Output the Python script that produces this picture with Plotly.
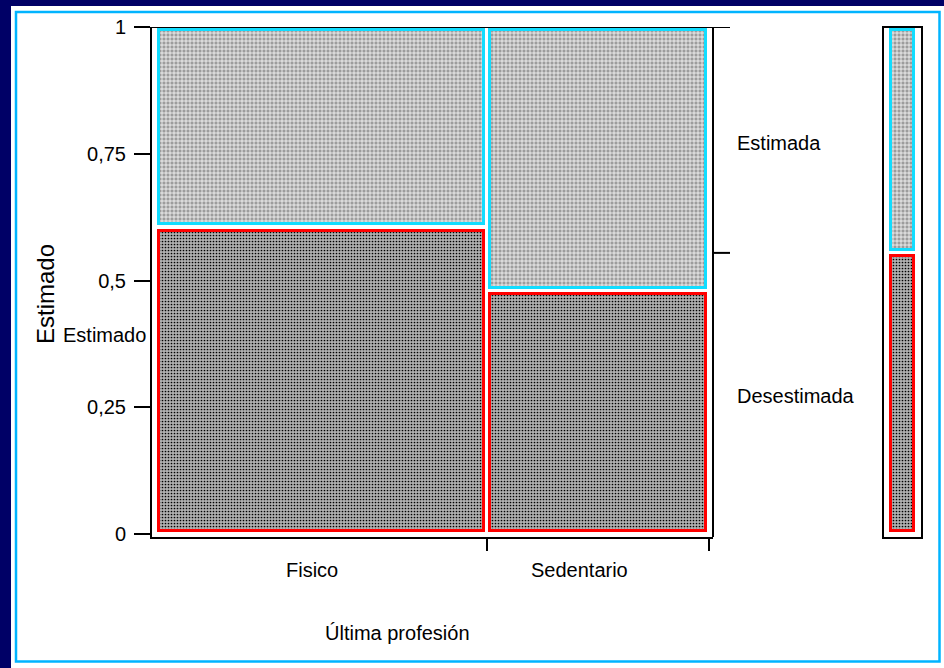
import plotly.graph_objects as go

# ---------------- data ----------------
categories = ["Fisico", "Sedentario"]          # Última profesión
col_share = [0.598, 0.402]                      # column widths (share of cases)
desestimada = [0.6045, 0.480]                   # share "Desestimada" within each column
estimada = [1 - v for v in desestimada]         # share "Estimada" within each column
responses = ["Desestimada", "Estimada"]
y_tickvals = [0, 0.25, 0.5, 0.75, 1]
y_ticktext = ["0", "0,25", "0,5", "0,75", "1"]

# marginal share of "Desestimada"
marg_des = sum(s * d for s, d in zip(col_share, desestimada))

W, H = 944, 668
NAVY = "#000066"
PANEL_BORDER = "#00b4ff"
CYAN = "#11ddff"
RED = "#ff0000"
FONT = "Liberation Sans, Arial, sans-serif"

def px(p):
    return p / W

def py(p):
    return 1 - p / H

gx, gy = 0.0054, 0.006   # small inset between cells

upper_pattern = dict(shape="+", size=4, solidity=0.35, fgcolor="#ffffff", bgcolor="#9c9c9c", fillmode="replace")
lower_pattern = dict(shape=".", size=3, solidity=0.25, fgcolor="#000000", bgcolor="#b0b0b0", fillmode="replace")

fig = go.Figure()

# mosaic cells
left = 0.0
for cat, s, d, e in zip(categories, col_share, desestimada, estimada):
    x0, x1 = left + gx, left + s - gx
    fig.add_trace(go.Bar(
        x=[(x0 + x1) / 2], y=[d - 2 * gy], base=[gy], width=[x1 - x0],
        xaxis="x", yaxis="y", name=f"{cat} – {responses[0]}",
        marker=dict(color="#808080", pattern=lower_pattern, line=dict(color=RED, width=3)),
        hoverinfo="skip", showlegend=False))
    fig.add_trace(go.Bar(
        x=[(x0 + x1) / 2], y=[e - 2 * gy], base=[d + gy], width=[x1 - x0],
        xaxis="x", yaxis="y", name=f"{cat} – {responses[1]}",
        marker=dict(color="#b0b0b0", pattern=upper_pattern, line=dict(color=CYAN, width=3)),
        hoverinfo="skip", showlegend=False))
    left += s

# marginal bar
fig.add_trace(go.Bar(
    x=[0.5], y=[marg_des - 2 * gy], base=[gy], width=[0.59],
    xaxis="x2", yaxis="y",
    marker=dict(color="#808080", pattern=lower_pattern, line=dict(color=RED, width=3)),
    hoverinfo="skip", showlegend=False))
fig.add_trace(go.Bar(
    x=[0.5], y=[1 - marg_des - 2 * gy], base=[marg_des + gy], width=[0.59],
    xaxis="x2", yaxis="y",
    marker=dict(color="#b0b0b0", pattern=upper_pattern, line=dict(color=CYAN, width=3)),
    hoverinfo="skip", showlegend=False))

bounds = []
centers = []
acc = 0.0
for s in col_share:
    centers.append(acc + s / 2)
    acc += s
    bounds.append(acc)

shapes = [
    dict(type="rect", xref="paper", yref="paper", x0=px(11), x1=1.01, y0=-0.01, y1=py(6),
         fillcolor="white", line=dict(width=0), layer="below"),
    dict(type="rect", xref="paper", yref="paper", x0=px(16), x1=px(939.5), y0=py(661.5), y1=py(12),
         fillcolor="rgba(0,0,0,0)", line=dict(color=PANEL_BORDER, width=2.5), layer="below"),
    dict(type="line", xref="x domain", yref="y", x0=0, x1=1 + 17 / 561, y0=1, y1=1,
         line=dict(color="black", width=2)),
    dict(type="line", xref="x domain", yref="y domain", x0=1, x1=1, y0=0, y1=1,
         line=dict(color="black", width=2)),
    dict(type="line", xref="x domain", yref="y", x0=1, x1=1 + 17 / 561, y0=marg_des, y1=marg_des,
         line=dict(color="black", width=2)),
    dict(type="rect", xref="x2 domain", yref="y domain", x0=0, x1=1, y0=-0.002, y1=1,
         fillcolor="rgba(0,0,0,0)", line=dict(color="black", width=2)),
]

annotations = []
label_shift = [-10, -18]
for cat, c, sh in zip(categories, centers, label_shift):
    annotations.append(dict(x=c, xref="x", y=py(570), yref="paper", text=cat, showarrow=False,
                            xshift=sh, xanchor="center", yanchor="middle",
                            font=dict(size=20, color="black", family=FONT)))
for txt, yv in zip(["Estimada", "Desestimada"], [(marg_des + 1) / 2, marg_des / 2]):
    annotations.append(dict(x=1 + 22 / 561, xref="x domain", y=yv, yref="y", text=txt,
                            xanchor="left", yanchor="middle", showarrow=False, yshift=-3,
                            font=dict(size=20, color="black", family=FONT)))
annotations.append(dict(x=px(397), y=py(633), xref="paper", yref="paper", text="Última profesión",
                        xanchor="center", yanchor="middle",
                        showarrow=False, font=dict(size=20, color="black", family=FONT)))
annotations.append(dict(x=px(45), y=py(294), xref="paper", yref="paper", text="Estimado",
                        xanchor="center", yanchor="middle",
                        textangle=-90, showarrow=False, font=dict(size=24, color="black", family=FONT)))
annotations.append(dict(x=px(148), y=py(335), xref="paper", yref="paper", text="Estimado",
                        xanchor="right", yanchor="middle",
                        showarrow=False, font=dict(size=20, color="black", family=FONT)))

fig.update_layout(
    template="none",
    width=W, height=H, autosize=False,
    margin=dict(l=0, r=0, t=0, b=0, pad=0),
    paper_bgcolor=NAVY, plot_bgcolor="rgba(0,0,0,0)",
    barmode="overlay", bargap=0,
    xaxis=dict(domain=[px(152), px(713)], range=[-(156.5 - 152) / 552, 1 + (713 - 708.5) / 552],
               anchor="y", automargin=False, showgrid=False, zeroline=False, showline=True,
               linecolor="black", linewidth=2,
               tickmode="array", tickvals=bounds, ticktext=["" for _ in bounds],
               ticks="outside", ticklen=12, tickwidth=2, tickcolor="black", fixedrange=True),
    yaxis=dict(domain=[py(537), py(27)], range=[-3 / 507, 1], anchor="x", automargin=False,
               showgrid=False, zeroline=False, showline=True, linecolor="black", linewidth=2,
               tickmode="array", tickvals=y_tickvals, ticktext=y_ticktext,
               ticks="outside", ticklen=16, tickwidth=2, tickcolor="black",
               tickfont=dict(size=20, color="black", family=FONT), ticklabelstandoff=4, fixedrange=True),
    xaxis2=dict(domain=[px(883), px(922)], range=[0, 1], anchor="y", visible=False,
                automargin=False, fixedrange=True),
    shapes=shapes, annotations=annotations,
    font=dict(family=FONT, color="black"),
)

fig.write_html("out.html", config={"displayModeBar": False},
               post_script="document.body.style.margin='0';document.body.style.overflow='hidden';")
